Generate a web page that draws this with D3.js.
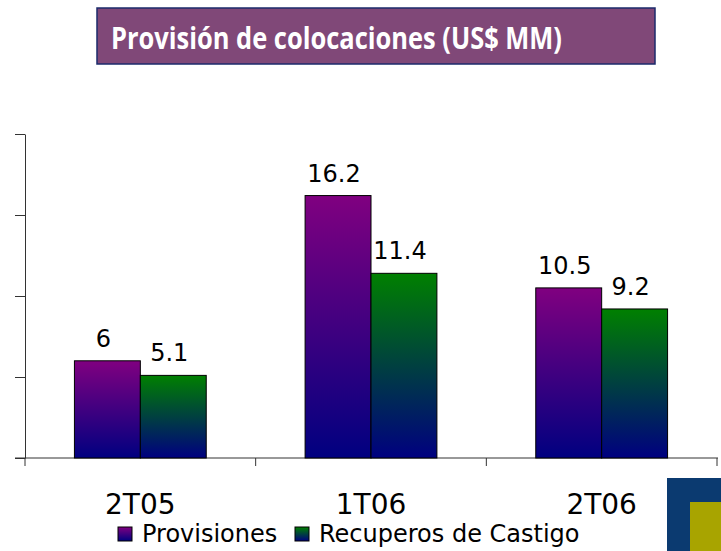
<!DOCTYPE html>
<html>
<head>
<meta charset="utf-8">
<script src="https://cdn.jsdelivr.net/npm/d3@7"></script>
<style>
	body { margin: 0; background: #fff; }
	svg { display: block; }
</style>
</head>
<body>
<svg id="chart" width="721" height="551"></svg>
<script>
"use strict";

// DATA
const categories = ["2T05", "1T06", "2T06"];
const seriesNames = ["Provisiones", "Recuperos de Castigo"];
const provisiones = [6, 16.2, 10.5];
const recuperos = [5.1, 11.4, 9.2];
const yTicks = [0, 5, 10, 15, 20];

const seriesTop = ["#800080", "#008000"];
const seriesBottom = "#000080";

const svg = d3.select("#chart");
const defs = svg.append("defs");

seriesTop.forEach((c, i) => {
	const g = defs.append("linearGradient")
		.attr("id", "grad" + i)
		.attr("x1", 0).attr("y1", 0).attr("x2", 0).attr("y2", 1);
	g.append("stop").attr("offset", "0%").attr("stop-color", c);
	g.append("stop").attr("offset", "100%").attr("stop-color", seriesBottom);
});

// Title box
svg.append("rect")
	.attr("x", 97).attr("y", 8)
	.attr("width", 558).attr("height", 56)
	.attr("fill", "#804878")
	.attr("stroke", "#1b2a6b")
	.attr("stroke-width", 1.5);

svg.append("text")
	.attr("x", 111).attr("y", 49)
	.attr("fill", "#fff")
	.style("font-family", "'Open Sans', sans-serif")
	.style("font-weight", "bold")
	.style("font-size", "30px")
	.attr("textLength", 451)
	.attr("lengthAdjust", "spacingAndGlyphs")
	.text("Provisión de colocaciones (US$ MM)");

// Scales
const x0 = d3.scaleBand().domain(categories).range([25, 717]).paddingInner(0);
const x1 = d3.scaleBand().domain(seriesNames).range([0, x0.bandwidth()]).paddingOuter(0.75);
const y = d3.scaleLinear().domain([0, 20]).range([458, 134]);

// Y axis (no labels)
svg.append("g")
	.attr("transform", "translate(25,0)")
	.call(d3.axisLeft(y).tickValues(yTicks).tickSize(10).tickSizeOuter(0).tickFormat(""))
	.call(g => g.selectAll("line, path").attr("stroke", "#333"));

// X axis
svg.append("line")
	.attr("x1", 15).attr("x2", 718)
	.attr("y1", y(0)).attr("y2", y(0))
	.attr("stroke", "#333");

const bounds = categories.map(c => x0(c)).concat([x0.range()[1]]);
svg.selectAll(".xtick")
	.data(bounds)
	.join("line")
	.attr("x1", d => d).attr("x2", d => d)
	.attr("y1", y(0)).attr("y2", y(0) + 8)
	.attr("stroke", "#333");

svg.selectAll(".xlabel")
	.data(categories)
	.join("text")
	.attr("x", d => x0(d) + x0.bandwidth() / 2)
	.attr("y", 514)
	.attr("text-anchor", "middle")
	.style("font-family", "'DejaVu Sans', sans-serif")
	.style("font-size", "28px")
	.attr("fill", "#000")
	.text(d => d);

// Bars
const rows = categories.map((c, i) => ({
	cat: c,
	vals: [provisiones[i], recuperos[i]]
}));

const groups = svg.selectAll(".grp")
	.data(rows)
	.join("g")
	.attr("transform", d => `translate(${x0(d.cat)},0)`);

groups.selectAll("rect")
	.data(d => d.vals.map((v, i) => ({ v, i })))
	.join("rect")
	.attr("x", d => x1(seriesNames[d.i]))
	.attr("width", x1.bandwidth())
	.attr("y", d => y(d.v))
	.attr("height", d => y(0) - y(d.v))
	.attr("fill", d => `url(#grad${d.i})`)
	.attr("stroke", "#000")
	.attr("stroke-width", 1);

groups.selectAll("text")
	.data(d => d.vals.map((v, i) => ({ v, i })))
	.join("text")
	.attr("x", d => x1(seriesNames[d.i]) + x1.bandwidth() / 2 - 4)
	.attr("y", d => y(d.v) - 14)
	.attr("text-anchor", "middle")
	.style("font-family", "'DejaVu Sans', sans-serif")
	.style("font-size", "24px")
	.attr("fill", "#000")
	.text(d => d.v);

// Legend
const legendX = [118, 295];
const legend = svg.selectAll(".leg")
	.data(seriesNames)
	.join("g")
	.attr("transform", (d, i) => `translate(${legendX[i]},527)`);

legend.append("rect")
	.attr("width", 14).attr("height", 14)
	.attr("fill", (d, i) => `url(#grad${i})`)
	.attr("stroke", "#000");

legend.append("text")
	.attr("x", 24).attr("y", 15)
	.style("font-family", "'DejaVu Sans', sans-serif")
	.style("font-size", "24px")
	.attr("fill", "#000")
	.text(d => d);

// Corner logo
svg.append("rect")
	.attr("x", 667).attr("y", 478)
	.attr("width", 60).attr("height", 80)
	.attr("fill", "#0b3a70");
svg.append("rect")
	.attr("x", 690).attr("y", 502)
	.attr("width", 40).attr("height", 60)
	.attr("fill", "#a8a400");
</script>
</body>
</html>
